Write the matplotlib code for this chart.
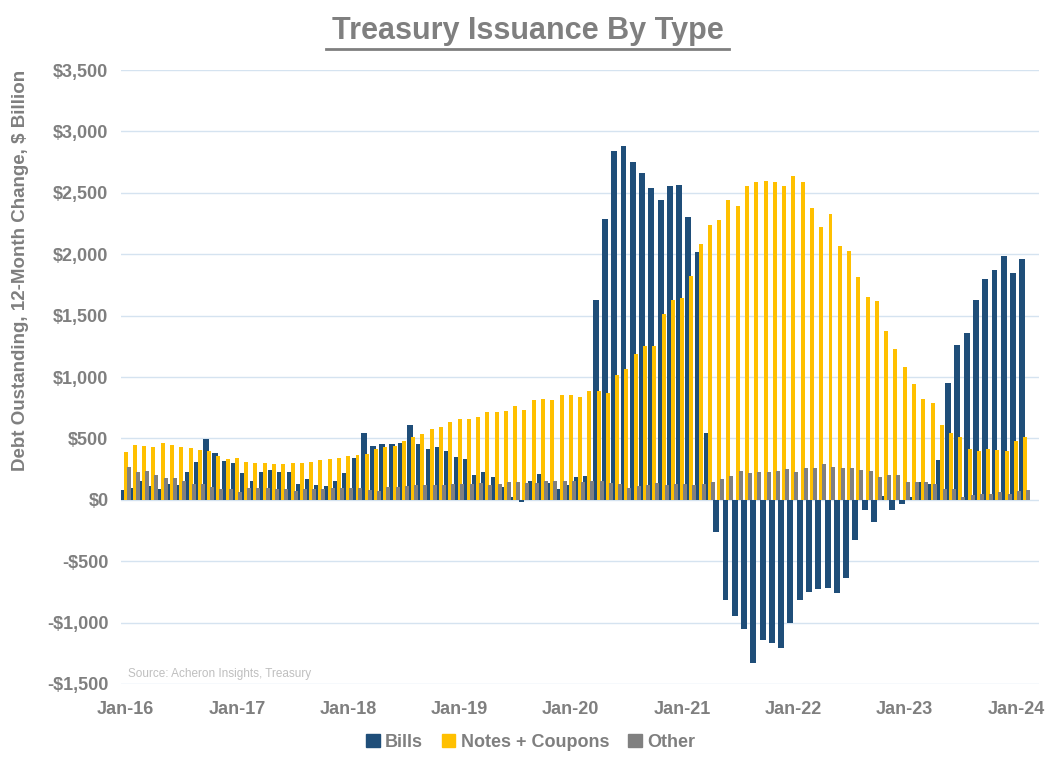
import matplotlib.pyplot as plt
from matplotlib.patches import Patch
from matplotlib.ticker import FuncFormatter

# monthly, Jan-16 .. Feb-24, 12-month change in $bn
bills = [78, 93, 150, 110, 85, 126, 118, 229, 310, 498, 384, 318,
         302, 220, 155, 229, 245, 229, 229, 131, 172, 122, 114, 155,
         220, 343, 547, 441, 457, 457, 466, 613, 457, 417, 433, 400,
         351, 335, 204, 229, 188, 106, 25, -16, 155, 212, 139, 90,
         122, 185, 190, 1628, 2287, 2840, 2881, 2751, 2661, 2539, 2442, 2556,
         2564, 2303, 2020, 546, -259, -818, -948, -1055, -1333, -1145, -1169, -1210,
         -1006, -818, -752, -728, -719, -760, -638, -327, -82, -180, 35, -81,
         -33, 19, 149, 125, 328, 954, 1263, 1360, 1629, 1799, 1873, 1986,
         1848, 1962]
notes = [386, 443, 435, 427, 460, 443, 433, 425, 408, 400, 359, 335,
         343, 310, 302, 302, 294, 294, 302, 302, 310, 327, 335, 343,
         359, 367, 376, 417, 433, 441, 482, 515, 539, 580, 596, 637,
         662, 662, 678, 711, 719, 727, 760, 735, 809, 817, 809, 850,
         855, 835, 887, 887, 871, 1017, 1066, 1188, 1253, 1253, 1514, 1628,
         1644, 1825, 2085, 2240, 2280, 2444, 2396, 2559, 2592, 2600, 2584, 2559,
         2641, 2592, 2380, 2225, 2331, 2070, 2030, 1818, 1654, 1622, 1377, 1230,
         1084, 946, 824, 791, 612, 547, 515, 417, 401, 417, 409, 401,
         482, 515]
other = [264, 224, 232, 199, 175, 175, 155, 131, 131, 106, 90, 90,
         65, 98, 98, 98, 90, 90, 74, 90, 90, 90, 98, 98,
         98, 98, 82, 74, 106, 106, 114, 122, 122, 122, 122, 131,
         131, 131, 139, 122, 131, 147, 147, 139, 139, 155, 155, 155,
         150, 147, 155, 155, 138, 130, 98, 114, 122, 138, 122, 130,
         130, 122, 130, 147, 171, 196, 236, 220, 228, 228, 236, 253,
         228, 261, 261, 293, 269, 261, 261, 246, 238, 182, 206, 198,
         149, 141, 141, 125, 92, 92, 19, 43, 51, 51, 60, 51,
         68, 76]

tick_labels = ["Jan-16", "Jan-17", "Jan-18", "Jan-19", "Jan-20",
               "Jan-21", "Jan-22", "Jan-23", "Jan-24"]

c_bills = "#1f4e79"
c_notes = "#ffc000"
c_other = "#808080"
grey_txt = "#7f7f7f"

plt.rcParams['font.family'] = ['Liberation Sans', 'DejaVu Sans']

fig = plt.figure(figsize=(10.55, 7.72), dpi=100)
ax = fig.add_axes([0.1147, 0.114, 0.8703, 0.7953])

x = list(range(len(bills)))
ax.bar([i - 0.32 for i in x], bills, width=0.64, color=c_bills, zorder=2)
ax.bar(x, notes, width=0.43, color=c_notes, zorder=3)
ax.bar([i + 0.32 for i in x], other, width=0.43, color=c_other, zorder=4)

ax.set_xlim(-0.5, 98.5)
ax.set_ylim(-1500, 3500)
ax.set_yticks(range(-1500, 3501, 500))
ax.yaxis.set_major_formatter(FuncFormatter(
    lambda v, p: ("-$" if v < 0 else "$") + f"{abs(int(v)):,}"))
ax.set_xticks([12 * i for i in range(len(tick_labels))])
ax.set_xticklabels(tick_labels)

ax.grid(axis="y", color="#d5e3f0", linewidth=1, zorder=0)
ax.set_axisbelow(True)
for s in ax.spines.values():
    s.set_visible(False)
ax.tick_params(length=0, labelsize=13, labelcolor=grey_txt)
for lab in ax.get_xticklabels() + ax.get_yticklabels():
    lab.set_fontweight("bold")
ax.tick_params(axis="x", pad=12)
ax.tick_params(axis="y", pad=9)

ax.set_ylabel("Debt Oustanding, 12-Month Change, $ Billion", fontsize=13.5,
              fontweight="bold", color=grey_txt)
ax.yaxis.set_label_coords(-0.1, 0.674)

fig.text(0.5, 0.96, "Treasury Issuance By Type", ha="center", va="center",
         fontsize=22, fontweight="bold", color=grey_txt,
         family=['Liberation Sans Narrow', 'Liberation Sans', 'DejaVu Sans'])
fig.add_artist(plt.Line2D([0.309, 0.691], [0.937, 0.937], color=grey_txt,
                          linewidth=2, transform=fig.transFigure))

ax.text(0.008, 0.006, "Source: Acheron Insights, Treasury", transform=ax.transAxes,
        fontsize=8.5, color="#bfbfbf", va="bottom")

handles = [Patch(color=c_bills, label="Bills"),
           Patch(color=c_notes, label="Notes + Coupons"),
           Patch(color=c_other, label="Other")]
leg = fig.legend(handles=handles, loc="center", bbox_to_anchor=(0.503, 0.038),
                 ncol=3, frameon=False, fontsize=13, handlelength=0.75,
                 handleheight=0.75, handletextpad=0.3, columnspacing=1.05)
for t in leg.get_texts():
    t.set_color(grey_txt)
    t.set_fontweight("bold")

fig.savefig("out.png", dpi=100)
